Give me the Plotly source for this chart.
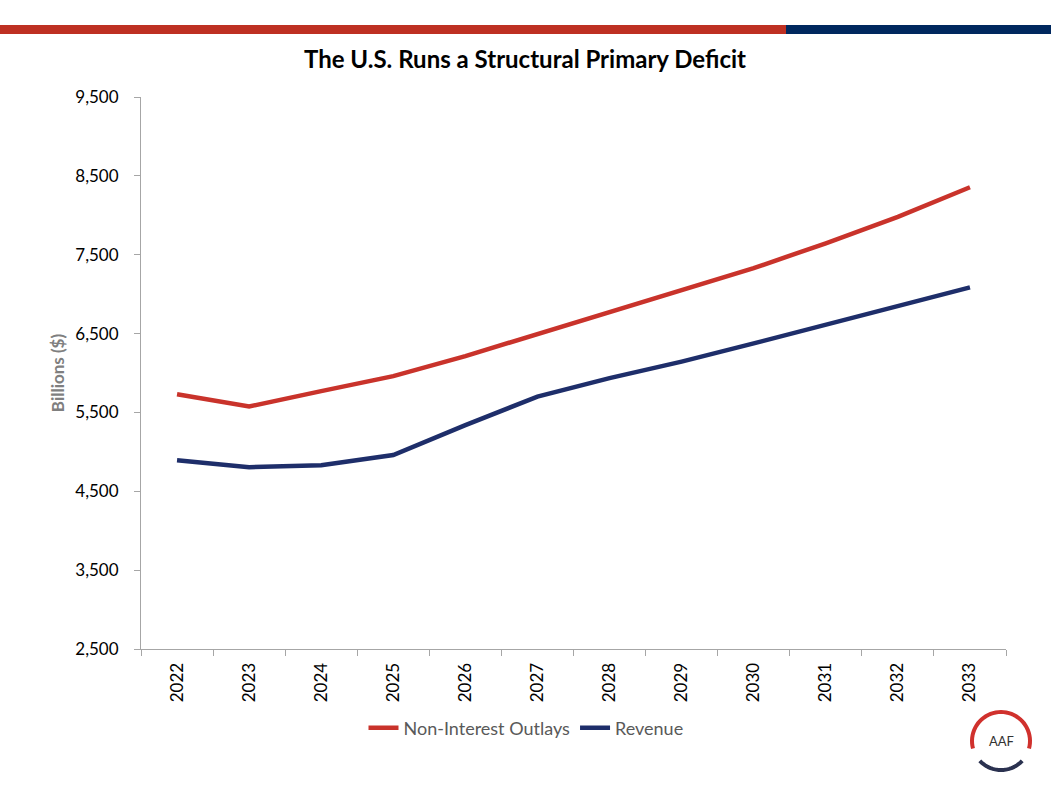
import plotly.graph_objects as go
import math

years = ["2022", "2023", "2024", "2025", "2026", "2027", "2028", "2029", "2030", "2031", "2032", "2033"]
outlays = [5730, 5575, 5770, 5960, 6215, 6495, 6775, 7055, 7330, 7645, 7980, 8355]
revenue = [4895, 4805, 4830, 4960, 5340, 5700, 5935, 6145, 6375, 6610, 6840, 7085]
y_ticks = [2500, 3500, 4500, 5500, 6500, 7500, 8500, 9500]

W, H = 1051, 788
ML, MR, MT, MB = 141, 45, 97, 139
PW, PH = W - ML - MR, H - MT - MB

def px(x):
    return (x - ML) / PW

def py(y):
    return (H - MB - y) / PH

RED = "#C9332B"
NAVY = "#1E2E6A"
FONT = "Lato, 'Open Sans', sans-serif"

fig = go.Figure()
fig.add_trace(go.Scatter(x=years, y=outlays, mode="lines", name="Non-Interest Outlays",
                         line=dict(color=RED, width=4.5)))
fig.add_trace(go.Scatter(x=years, y=revenue, mode="lines", name="Revenue",
                         line=dict(color=NAVY, width=4.5)))

shapes = []
# top bars
shapes.append(dict(type="rect", xref="paper", yref="paper", x0=px(0), x1=px(786), y0=py(34), y1=py(25),
                   fillcolor="#BE3022", line=dict(width=0), layer="above"))
shapes.append(dict(type="rect", xref="paper", yref="paper", x0=px(786), x1=px(W), y0=py(34), y1=py(25),
                   fillcolor="#00285E", line=dict(width=0), layer="above"))

# logo arcs
cx, cy, r = 1001, 741, 29
def arc(a0, a1, n=40):
    pts = []
    for i in range(n + 1):
        a = math.radians(a0 + (a1 - a0) * i / n)
        x = cx + r * math.cos(a)
        y = cy - r * math.sin(a)
        pts.append((px(x), py(y)))
    return "M " + " L ".join(f"{a:.5f},{b:.5f}" for a, b in pts)

shapes.append(dict(type="path", xref="paper", yref="paper", path=arc(-15, 195),
                   line=dict(color="#D0312D", width=4)))
shapes.append(dict(type="path", xref="paper", yref="paper", path=arc(-43, -137),
                   line=dict(color="#2B3250", width=4)))

fig.update_layout(
    width=W, height=H,
    margin=dict(l=ML, r=MR, t=MT, b=MB, autoexpand=False),
    paper_bgcolor="white", plot_bgcolor="white",
    font=dict(family=FONT, color="#000000", size=17),
    title=dict(text="<b>The U.S. Runs a Structural Primary Deficit</b>", x=525 / W, xref="container",
               xanchor="center", y=1 - 60 / H, yanchor="middle",
               font=dict(family=FONT, size=24, color="#000000")),
    showlegend=True,
    legend=dict(orientation="h", x=px(526), xanchor="center", y=py(728), yanchor="middle",
                font=dict(family=FONT, size=18, color="#595959"), bgcolor="rgba(0,0,0,0)"),
    shapes=shapes,
    annotations=[dict(text="AAF", xref="paper", yref="paper", x=px(cx), y=py(cy),
                      xanchor="center", yanchor="middle",
                      showarrow=False, font=dict(family=FONT, size=13, color="#333333"))],
)

fig.update_xaxes(
    type="category", tickson="boundaries", ticks="outside", ticklen=6, tickcolor="#A6A6A6",
    range=[-0.5, 11.5],
    showline=True, linecolor="#A6A6A6", linewidth=1, showgrid=False, tickangle=-90,
    tickfont=dict(family=FONT, size=17, color="#000000"), zeroline=False, ticklabelstandoff=6,
)
fig.update_yaxes(
    range=[2500, 9500], tickvals=y_ticks, tickformat=",", ticks="outside", ticklen=6,
    tickcolor="#A6A6A6", showline=True, linecolor="#A6A6A6", linewidth=1, showgrid=False,
    zeroline=False, tickfont=dict(family=FONT, size=17, color="#000000"), ticklabelstandoff=12,
    title=dict(text="<b>Billions ($)</b>", standoff=6, font=dict(family=FONT, size=17, color="#7F7F7F")),
)

fig.write_html("out.html")
